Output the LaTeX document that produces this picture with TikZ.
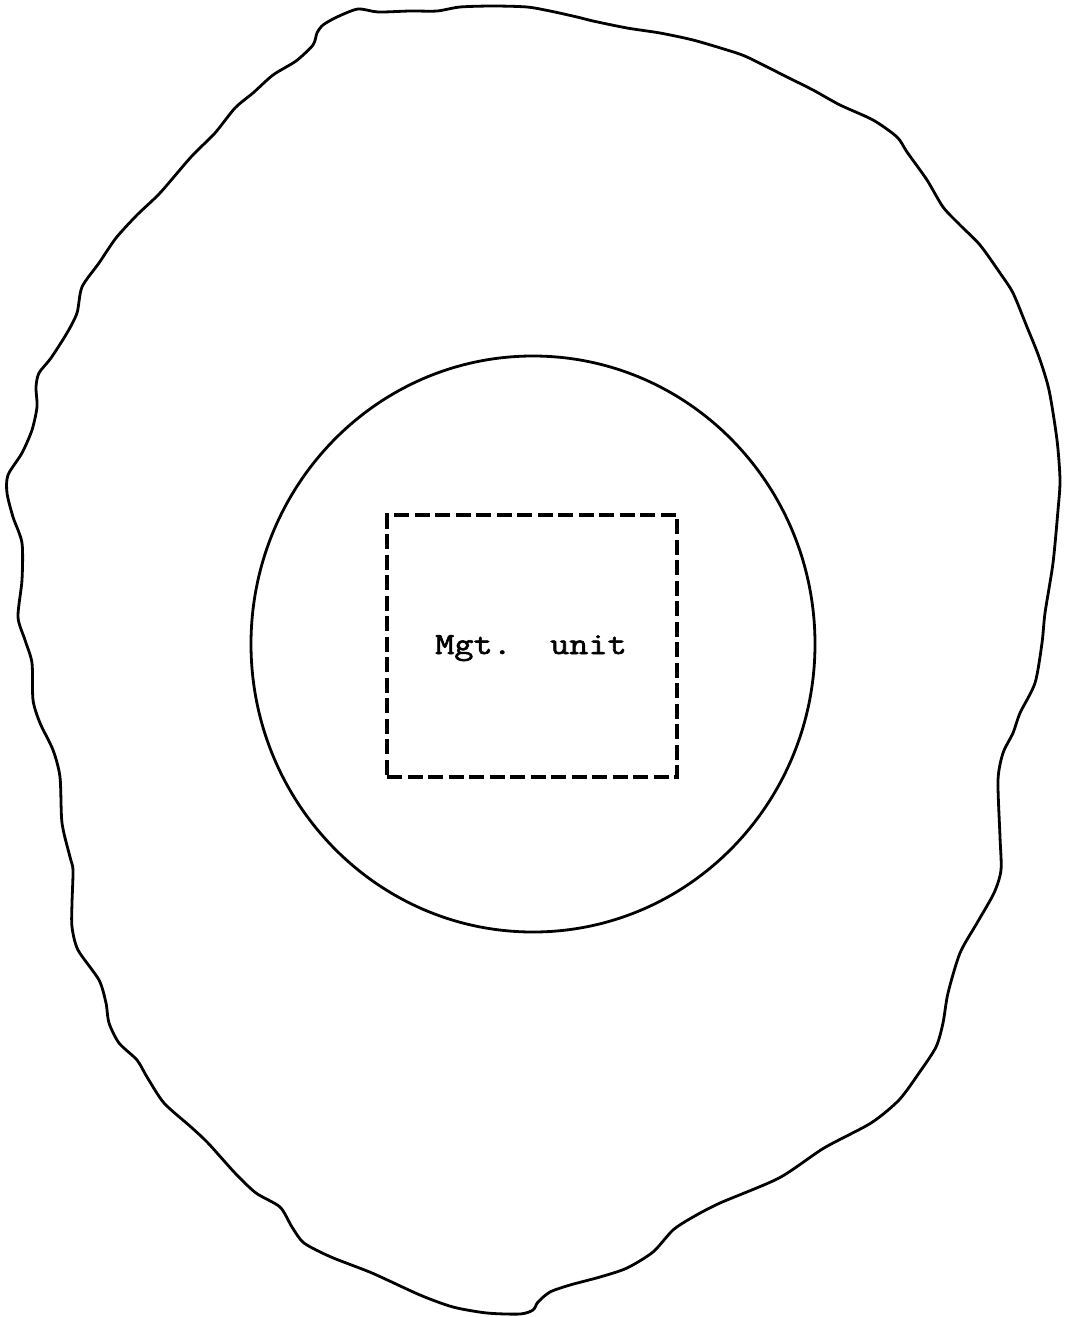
\documentclass[tikz,border=0pt]{standalone}
\usepackage{fontspec}
\newfontfamily\typewr{Latin Modern Mono}[FakeStretch=1.2,FakeBold=2]
\begin{document}
\begin{tikzpicture}[x=1pt,y=-1pt,
  outline/.style={line width=2.8pt,line join=round},
  mgtbox/.style={draw,line width=3.4pt,dash pattern=on 15pt off 5.5pt,minimum width=290pt,minimum height=262pt,inner sep=0pt},
  mgtlabel/.style={font=\typewr\fontsize{31}{34}\selectfont,inner sep=0pt,anchor=base}]
\useasboundingbox (0,0) rectangle (1065,1317);
\fill[white] (0,0) rectangle (1065,1317);
% outer irregular boundary
\draw[outline] plot[smooth cycle,tension=0.45] coordinates {
(313,45) (317,33) (323,25) (337,17) (358,9) (378,12) (410,11) (437,11) (460,7)
(493,6) (527,7) (550,11) (577,17) (593,21) (627,28) (660,33) (693,40) (727,50)
(747,57) (787,77) (813,90) (840,105) (873,120) (897,137) (907,152) (927,180)
(943,207) (960,225) (980,245) (1000,273) (1013,293) (1027,327) (1039,357)
(1049,390) (1057,440) (1060,480) (1058,510) (1053,563) (1045,613)
(1042,643) (1035,683) (1020,713) (1013,733) (1003,753) (998,780) (1000,837)
(1001,870) (994,893) (977,923) (960,953) (948,993) (943,1023) (936,1047)
(919,1073) (899,1100) (871,1123) (824,1148) (779,1178) (720,1203) (693,1217)
(673,1230) (653,1252) (627,1268) (600,1277) (570,1285) (550,1292) (538,1302)
(533,1310) (520,1314) (487,1313) (453,1307) (420,1295) (372,1273) (331,1257)
(304,1243) (292,1227) (280,1207) (256,1193) (235,1173) (208,1143) (191,1127)
(164,1103) (147,1077) (137,1060) (119,1043) (109,1023) (106,1003) (99,980)
(78,950) (72,927) (72,903) (73,870) (70,857) (62,823) (60,777) (53,750)
(40,723) (33,700) (32,663) (25,640) (18,617) (22,580) (22,543) (13,517)
(7,493) (8,475) (22,453) (32,430) (37,407) (36,387) (39,373) (51,358) (67,333)
(77,313) (82,287) (99,263) (116,238) (137,215) (160,193) (191,157) (215,133)
(235,108) (253,93) (273,75) (296,61)};
% inner circle
\draw[outline] (533,644) ellipse [x radius=282, y radius=288];
% management unit
\node[mgtbox] (box) at (532,646) {};
\node[mgtlabel] (label) at (531,654) {Mgt.\ \ unit};
\end{tikzpicture}
\end{document}
